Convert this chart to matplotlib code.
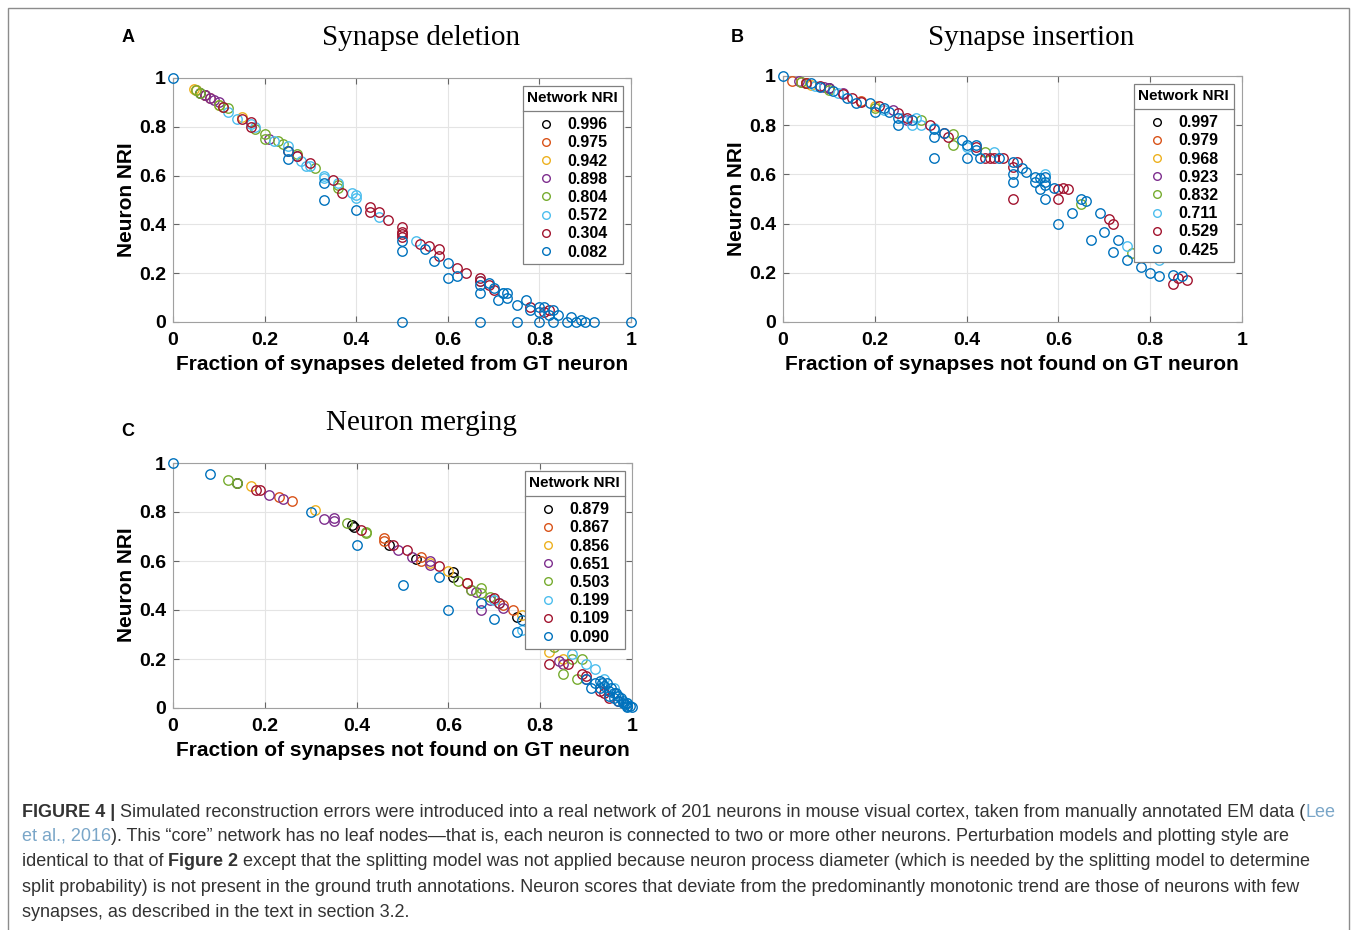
import matplotlib
matplotlib.use('Agg')
import matplotlib.pyplot as plt
from matplotlib.lines import Line2D
from matplotlib.patches import Rectangle
from matplotlib import font_manager

# ---- data ----
colors = ['#000000', '#D95319', '#EDB120', '#7E2F8E', '#77AC30', '#4DBEEE', '#A2142F', '#0072BD']

# A: synapse deletion
del_nri = ['0.996', '0.975', '0.942', '0.898', '0.804', '0.572', '0.304', '0.082']
del_x = [
    [0.06, 0.07],
    [0.05, 0.07, 0.08],
    [0.045, 0.05, 0.10, 0.15],
    [0.07, 0.08, 0.09, 0.10, 0.21, 0.27],
    [0.05, 0.06, 0.10, 0.11, 0.12, 0.18, 0.20, 0.20, 0.23, 0.24, 0.27, 0.31, 0.36, 0.36],
    [0.12, 0.14, 0.17, 0.18, 0.22, 0.25, 0.28, 0.29, 0.30, 0.33, 0.33, 0.36, 0.39, 0.40, 0.40, 0.45, 0.53, 0.67, 0.72],
    [0.11, 0.15, 0.17, 0.17, 0.25, 0.27, 0.30, 0.35, 0.37, 0.43, 0.43, 0.45, 0.47, 0.50, 0.50, 0.50, 0.50,
     0.54, 0.56, 0.58, 0.58, 0.62, 0.64, 0.67, 0.67, 0.69, 0.70, 0.78, 0.82, 0.81],
    [0.00, 0.25, 0.25, 0.33, 0.33, 0.40, 0.50, 0.50, 0.50, 0.55, 0.57, 0.60, 0.60, 0.62, 0.67, 0.67, 0.67,
     0.69, 0.70, 0.71, 0.72, 0.73, 0.73, 0.75, 0.75, 0.77, 0.78, 0.80, 0.80, 0.80, 0.81, 0.82, 0.83, 0.83,
     0.84, 0.86, 0.87, 0.88, 0.89, 0.90, 0.92, 1.00],
]
del_y = [
    [0.94, 0.93],
    [0.95, 0.93, 0.92],
    [0.955, 0.95, 0.89, 0.84],
    [0.93, 0.92, 0.91, 0.90, 0.75, 0.68],
    [0.95, 0.94, 0.89, 0.88, 0.875, 0.79, 0.77, 0.75, 0.74, 0.73, 0.69, 0.63, 0.56, 0.55],
    [0.86, 0.83, 0.81, 0.80, 0.74, 0.72, 0.66, 0.64, 0.64, 0.60, 0.59, 0.57, 0.53, 0.52, 0.51, 0.43, 0.33, 0.17, 0.12],
    [0.88, 0.83, 0.82, 0.80, 0.70, 0.68, 0.65, 0.58, 0.53, 0.47, 0.45, 0.45, 0.42, 0.39, 0.37, 0.36, 0.35,
     0.32, 0.31, 0.30, 0.27, 0.22, 0.20, 0.18, 0.17, 0.15, 0.13, 0.06, 0.05, 0.04],
    [1.00, 0.67, 0.70, 0.57, 0.50, 0.46, 0.33, 0.29, 0.00, 0.30, 0.25, 0.24, 0.18, 0.19, 0.15, 0.12, 0.00,
     0.16, 0.14, 0.09, 0.12, 0.12, 0.10, 0.07, 0.00, 0.09, 0.05, 0.06, 0.04, 0.00, 0.06, 0.03, 0.05, 0.00,
     0.03, 0.00, 0.02, 0.00, 0.01, 0.00, 0.00, 0.00],
]

# B: synapse insertion
ins_nri = ['0.997', '0.979', '0.968', '0.923', '0.832', '0.711', '0.529', '0.425']
ins_x = [
    [0.05, 0.10],
    [0.02, 0.04, 0.05, 0.17],
    [0.05, 0.06, 0.20],
    [0.035, 0.09, 0.10, 0.13, 0.24, 0.27],
    [0.04, 0.10, 0.20, 0.30, 0.37, 0.37, 0.44, 0.65, 0.76],
    [0.07, 0.12, 0.22, 0.26, 0.28, 0.29, 0.30, 0.33, 0.40, 0.46, 0.57, 0.75, 0.82],
    [0.05, 0.08, 0.13, 0.15, 0.17, 0.21, 0.25, 0.27, 0.32, 0.35, 0.36, 0.42, 0.44, 0.45, 0.46, 0.48,
     0.50, 0.50, 0.51, 0.60, 0.60, 0.61, 0.62, 0.71, 0.72, 0.85, 0.86, 0.88],
    [0.00, 0.06, 0.08, 0.11, 0.14, 0.16, 0.19, 0.20, 0.22, 0.23, 0.25, 0.25, 0.28, 0.33, 0.33, 0.33, 0.35,
     0.39, 0.40, 0.40, 0.42, 0.42, 0.43, 0.47, 0.50, 0.50, 0.50, 0.52, 0.53, 0.55, 0.55, 0.56, 0.56, 0.57,
     0.57, 0.57, 0.57, 0.59, 0.60, 0.63, 0.65, 0.66, 0.67, 0.69, 0.70, 0.72, 0.73, 0.75, 0.78, 0.80, 0.82,
     0.85, 0.87],
]
ins_y = [
    [0.97, 0.95],
    [0.98, 0.975, 0.97, 0.90],
    [0.97, 0.965, 0.88],
    [0.98, 0.955, 0.95, 0.93, 0.86, 0.82],
    [0.975, 0.945, 0.87, 0.82, 0.765, 0.72, 0.69, 0.48, 0.28],
    [0.96, 0.93, 0.86, 0.83, 0.80, 0.83, 0.80, 0.79, 0.71, 0.69, 0.60, 0.31, 0.25],
    [0.97, 0.96, 0.925, 0.91, 0.895, 0.88, 0.85, 0.83, 0.80, 0.77, 0.75, 0.71, 0.665, 0.665, 0.665, 0.665,
     0.63, 0.50, 0.65, 0.50, 0.54, 0.545, 0.54, 0.42, 0.40, 0.155, 0.18, 0.17],
    [1.00, 0.97, 0.955, 0.94, 0.91, 0.89, 0.89, 0.855, 0.87, 0.855, 0.83, 0.80, 0.82, 0.785, 0.75, 0.665, 0.77,
     0.74, 0.72, 0.665, 0.72, 0.70, 0.665, 0.665, 0.65, 0.60, 0.57, 0.625, 0.61, 0.59, 0.57, 0.54, 0.585, 0.59,
     0.57, 0.50, 0.555, 0.545, 0.40, 0.445, 0.50, 0.49, 0.335, 0.445, 0.365, 0.285, 0.335, 0.25, 0.225, 0.20, 0.185,
     0.19, 0.185],
]

# C: neuron merging
mer_nri = ['0.879', '0.867', '0.856', '0.651', '0.503', '0.199', '0.109', '0.090']
mer_x = [
    [0.14, 0.39, 0.395, 0.47, 0.53, 0.61, 0.61, 0.75],
    [0.23, 0.26, 0.46, 0.46, 0.54, 0.54, 0.64, 0.72, 0.74],
    [0.17, 0.31, 0.56, 0.60, 0.76, 0.82, 0.85],
    [0.21, 0.24, 0.33, 0.35, 0.35, 0.49, 0.52, 0.56, 0.56, 0.65, 0.66, 0.67, 0.69, 0.72, 0.84, 0.85, 0.90],
    [0.12, 0.14, 0.38, 0.42, 0.42, 0.62, 0.65, 0.67, 0.67, 0.69, 0.78, 0.83, 0.85, 0.87, 0.88, 0.89],
    [0.70, 0.71, 0.76, 0.87, 0.90, 0.92, 0.94, 0.96, 0.97, 0.99],
    [0.18, 0.19, 0.41, 0.48, 0.51, 0.58, 0.64, 0.70, 0.71, 0.82, 0.86, 0.89, 0.90, 0.93, 0.94, 0.95, 0.97],
    [0.00, 0.08, 0.30, 0.40, 0.50, 0.58, 0.60, 0.67, 0.70, 0.75, 0.76, 0.90, 0.91, 0.92, 0.93, 0.93, 0.935,
     0.94, 0.945, 0.95, 0.95, 0.955, 0.96, 0.96, 0.965, 0.97, 0.97, 0.975, 0.98, 0.98, 0.985, 0.99, 0.99,
     0.99, 0.995, 1.00],
]
mer_y = [
    [0.92, 0.745, 0.74, 0.665, 0.61, 0.555, 0.535, 0.37],
    [0.86, 0.845, 0.695, 0.68, 0.615, 0.60, 0.51, 0.42, 0.40],
    [0.905, 0.81, 0.59, 0.56, 0.38, 0.23, 0.20],
    [0.87, 0.855, 0.77, 0.775, 0.765, 0.645, 0.615, 0.60, 0.585, 0.48, 0.475, 0.40, 0.44, 0.41, 0.19, 0.18, 0.12],
    [0.93, 0.92, 0.755, 0.72, 0.715, 0.52, 0.48, 0.49, 0.47, 0.455, 0.33, 0.25, 0.14, 0.20, 0.12, 0.20],
    [0.44, 0.43, 0.32, 0.22, 0.18, 0.16, 0.12, 0.08, 0.05, 0.02],
    [0.89, 0.89, 0.725, 0.665, 0.645, 0.58, 0.51, 0.45, 0.43, 0.18, 0.18, 0.14, 0.13, 0.07, 0.06, 0.04, 0.03],
    [1.00, 0.955, 0.80, 0.665, 0.50, 0.535, 0.40, 0.43, 0.365, 0.31, 0.36, 0.12, 0.08, 0.10, 0.11, 0.08, 0.10,
     0.09, 0.10, 0.07, 0.05, 0.08, 0.06, 0.04, 0.06, 0.05, 0.03, 0.04, 0.03, 0.02, 0.015, 0.01, 0.02,
     0.005, 0.01, 0.005],
]

ticks = [0, 0.2, 0.4, 0.6, 0.8, 1]
tick_labels = ['0', '0.2', '0.4', '0.6', '0.8', '1']

# ---- figure ----
W, H = 1358, 930
plt.rcParams['font.family'] = ['Liberation Sans', 'DejaVu Sans']
fig = plt.figure(figsize=(W / 100, H / 100), dpi=100)


def fx(p):
    return p / W


def fy(p):
    return 1 - p / H


def make_axes(l, t, r, b):
    return fig.add_axes([fx(l), fy(b), fx(r - l), (b - t) / H])


def panel(ax, xs, ys, nri, leg_right, leg_top):
    for c, x, y in zip(colors, xs, ys):
        ax.plot(x, y, ls='none', marker='o', mfc='none', mec=c, ms=6.8, mew=1.0, clip_on=False, zorder=3)
    ax.set_xlim(0, 1)
    ax.set_ylim(0, 1)
    ax.set_xticks(ticks)
    ax.set_yticks(ticks)
    ax.set_xticklabels(tick_labels, fontweight='bold', fontsize=14)
    ax.set_yticklabels(tick_labels, fontweight='bold', fontsize=14)
    ax.tick_params(direction='in', length=4, width=0.8, color='#666666', top=True, right=True)
    ax.tick_params(axis='y', pad=5)
    ax.tick_params(axis='x', pad=7)
    ax.grid(color='#e4e4e4', lw=0.8)
    ax.set_axisbelow(True)
    for s in ax.spines.values():
        s.set_color('#a0a0a0')
        s.set_linewidth(0.8)
    handles = [Line2D([], [], ls='none', marker='o', mfc='none', mec=c, ms=5.5, mew=1.0) for c in colors]
    leg = ax.legend(handles, nri, title='Network NRI', loc='upper right',
                    bbox_to_anchor=(leg_right, leg_top), borderaxespad=0, fancybox=False,
                    edgecolor='#808080', framealpha=1, prop={'weight': 'bold', 'size': 11.5},
                    title_fontproperties={'weight': 'bold', 'size': 11},
                    handlelength=1.0, handletextpad=0.8, labelspacing=0.2, borderpad=0.3)
    leg.get_frame().set_linewidth(0.9)
    # extra room between the title and the entries
    leg._legend_box.sep = 9
    return leg


axA = make_axes(173, 78, 631, 322)
axB = make_axes(783, 76, 1242, 322)
axC = make_axes(173, 463, 632, 708)

legA = panel(axA, del_x, del_y, del_nri, (623 - 173) / 458, (322 - 86) / 244)
legB = panel(axB, ins_x, ins_y, ins_nri, (1234 - 783) / 459, (322 - 84) / 246)
legC = panel(axC, mer_x, mer_y, mer_nri, (625 - 173) / 459, (708 - 471) / 245)

# titles, panel letters, axis labels
title_kw = dict(family=['Liberation Serif', 'DejaVu Serif'], fontsize=21, ha='center', va='center')
fig.text(fx(421), fy(38), 'Synapse deletion', **title_kw)
fig.text(fx(1031), fy(38), 'Synapse insertion', **title_kw)
fig.text(fx(421), fy(423), 'Neuron merging', **title_kw)

lab_kw = dict(fontweight='bold', fontsize=13, ha='center', va='center')
fig.text(fx(128), fy(38), 'A', **lab_kw)
fig.text(fx(737), fy(38), 'B', **lab_kw)
fig.text(fx(128), fy(431), 'C', **lab_kw)

ax_kw = dict(fontweight='bold', fontsize=15, ha='center', va='center')
fig.text(fx(126), fy(200), 'Neuron NRI', rotation=90, **ax_kw)
fig.text(fx(736), fy(199), 'Neuron NRI', rotation=90, **ax_kw)
fig.text(fx(126), fy(585), 'Neuron NRI', rotation=90, **ax_kw)
fig.text(fx(402), fy(365), 'Fraction of synapses deleted from GT neuron', **ax_kw)
fig.text(fx(1012), fy(365), 'Fraction of synapses not found on GT neuron', **ax_kw)
fig.text(fx(403), fy(751), 'Fraction of synapses not found on GT neuron', **ax_kw)

# separator line between legend title and entries
fig.canvas.draw()
renderer = fig.canvas.get_renderer()
for leg in (legA, legB, legC):
    tb = leg.get_title().get_window_extent(renderer)
    fb = leg.get_frame().get_window_extent(renderer)
    first = leg.get_texts()[0].get_window_extent(renderer)
    yl = (tb.y0 + first.y1) / 2 / H
    fig.add_artist(Line2D([fb.x0 / W, fb.x1 / W], [yl, yl], color='#808080', lw=0.9))

# outer frame
fig.add_artist(Rectangle((fx(8), -0.05), fx(1349 - 8), fy(8) + 0.05, fill=False,
                         ec='#8c8c8c', lw=1.0, transform=fig.transFigure))

# caption
try:
    font_manager.findfont('Liberation Sans Narrow', fallback_to_default=False)
    cap_family = ['Liberation Sans Narrow', 'DejaVu Sans']
except ValueError:
    cap_family = ['Liberation Sans', 'DejaVu Sans']

dark = '#333333'
link = '#7aa6c8'
cap_lines = [
    [('FIGURE 4 |', 'bold', dark),
     (' Simulated reconstruction errors were introduced into a real network of 201 neurons in mouse visual '
      'cortex, taken from manually annotated EM data (', 'normal', dark),
     ('Lee', 'normal', link)],
    [('et al., 2016', 'normal', link),
     ('). This \u201ccore\u201d network has no leaf nodes\u2014that is, each neuron is connected to two or more '
      'other neurons. Perturbation models and plotting style are', 'normal', dark)],
    [('identical to that of ', 'normal', dark), ('Figure 2', 'bold', dark),
     (' except that the splitting model was not applied because neuron process diameter (which is needed by '
      'the splitting model to determine', 'normal', dark)],
    [('split probability) is not present in the ground truth annotations. Neuron scores that deviate from the '
      'predominantly monotonic trend are those of neurons with few', 'normal', dark)],
    [('synapses, as described in the text in section 3.2.', 'normal', dark)],
]
cap_y = [812, 836, 861, 887, 912]


def draw_line(segs, x0, y, fs):
    x = x0
    arts = []
    for s, w, c in segs:
        t = fig.text(fx(x), fy(y), s, family=cap_family, fontweight=w, color=c, fontsize=fs,
                     ha='left', va='center')
        bb = t.get_window_extent(renderer)
        x += bb.width
        arts.append(t)
    return arts, x - x0


arts, wid = draw_line(cap_lines[0], 22, cap_y[0], 12)
for a in arts:
    a.remove()
cap_fs = 12 * (1338 - 22) / wid
for segs, yy in zip(cap_lines, cap_y):
    draw_line(segs, 22, yy, cap_fs)

fig.savefig('out.png', dpi=100)
